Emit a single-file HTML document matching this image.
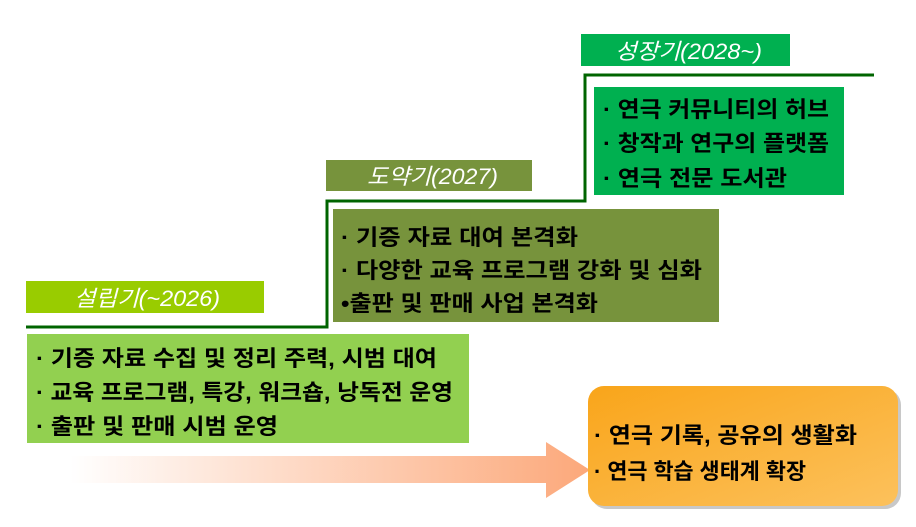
<!DOCTYPE html>
<html><head><meta charset="utf-8"><style>
body{margin:0;background:#fff;width:916px;height:522px;overflow:hidden}
svg text{font-family:"Liberation Sans","Noto Sans CJK KR","NanumGothic",sans-serif;}
.t{font-size:22px;font-weight:bold;fill:#000}
.h{font-size:22px;font-style:italic;fill:#fff}
</style></head><body>
<svg width="916" height="522" xmlns="http://www.w3.org/2000/svg">
<defs>
<linearGradient id="ar" x1="0" x2="1" y1="0" y2="0">
<stop offset="0" stop-color="#fff"/><stop offset="1" stop-color="#fca87a"/></linearGradient>
<linearGradient id="ob" x1="0" y1="0" x2="1" y2="1">
<stop offset="0" stop-color="#f9a51a"/><stop offset="1" stop-color="#fcc15c"/></linearGradient>
</defs>
<polyline points="26,327 327,327 327,201 585,201 585,75 874,75" fill="none" stroke="#006400" stroke-width="3"/>
<rect x="26" y="281" width="238" height="32" fill="#99cc00"/>
<text class="h" x="74" y="306" textLength="146" lengthAdjust="spacingAndGlyphs">설립기(~2026)</text>
<rect x="326" y="160" width="206" height="31" fill="#77933c"/>
<text class="h" x="367" y="184" textLength="131" lengthAdjust="spacingAndGlyphs">도약기(2027)</text>
<rect x="581" y="34" width="209" height="32" fill="#00b050"/>
<text class="h" x="615" y="59" textLength="147" lengthAdjust="spacingAndGlyphs">성장기(2028~)</text>
<rect x="27" y="334" width="442" height="109" fill="#92d050"/>
<text class="t" x="36" y="366" textLength="401" lengthAdjust="spacingAndGlyphs">· 기증 자료 수집 및 정리 주력, 시범 대여</text>
<text class="t" x="36" y="400" textLength="417" lengthAdjust="spacingAndGlyphs">· 교육 프로그램, 특강, 워크숍, 낭독전 운영</text>
<text class="t" x="36" y="434" textLength="242" lengthAdjust="spacingAndGlyphs">· 출판 및 판매 시범 운영</text>
<rect x="333" y="209" width="386" height="113" fill="#77933c"/>
<text class="t" x="341" y="245" textLength="237" lengthAdjust="spacingAndGlyphs">· 기증 자료 대여 본격화</text>
<text class="t" x="341" y="278" textLength="361" lengthAdjust="spacingAndGlyphs">· 다양한 교육 프로그램 강화 및 심화</text>
<text class="t" x="341" y="311" textLength="257" lengthAdjust="spacingAndGlyphs">•출판 및 판매 사업 본격화</text>
<rect x="594" y="87" width="250" height="108" fill="#00b050"/>
<text class="t" x="603" y="117" textLength="226" lengthAdjust="spacingAndGlyphs">· 연극 커뮤니티의 허브</text>
<text class="t" x="603" y="151" textLength="226" lengthAdjust="spacingAndGlyphs">· 창작과 연구의 플랫폼</text>
<text class="t" x="603" y="186" textLength="184" lengthAdjust="spacingAndGlyphs">· 연극 전문 도서관</text>
<polygon points="70,456 546,456 546,442 590,470 546,498 546,483 70,483" fill="url(#ar)"/>
<rect x="591" y="389" width="310" height="120" rx="16" fill="#c8c8c8"/>
<rect x="588" y="386" width="310" height="120" rx="16" fill="url(#ob)"/>
<text class="t" x="594" y="443" textLength="263" lengthAdjust="spacingAndGlyphs">· 연극 기록, 공유의 생활화</text>
<text class="t" x="594" y="479" textLength="212" lengthAdjust="spacingAndGlyphs">· 연극 학습 생태계 확장</text>
</svg>
</body></html>
